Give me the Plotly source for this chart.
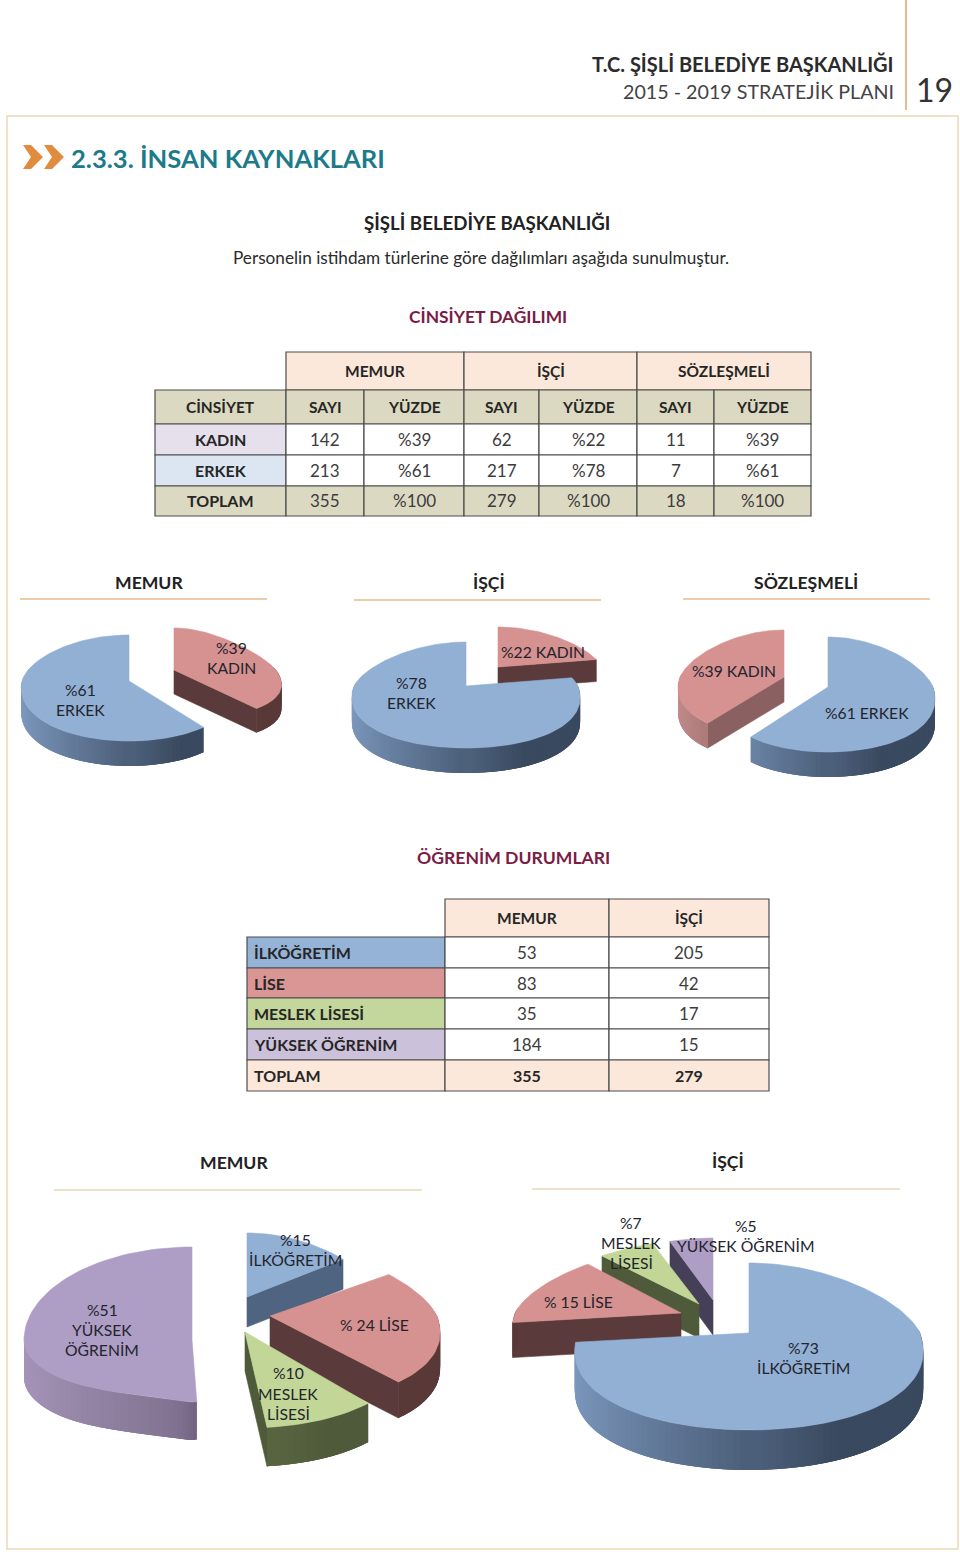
import math
import plotly.graph_objects as go

# ---------- data ----------
gender_cols = ["MEMUR", "İŞÇİ", "SÖZLEŞMELİ"]
gender_sub = ["CİNSİYET", "SAYI", "YÜZDE", "SAYI", "YÜZDE", "SAYI", "YÜZDE"]
gender_rows = ["KADIN", "ERKEK", "TOPLAM"]
gender_kadin = ["142", "%39", "62", "%22", "11", "%39"]
gender_erkek = ["213", "%61", "217", "%78", "7", "%61"]
gender_toplam = ["355", "%100", "279", "%100", "18", "%100"]

memur_gender_pct = [39, 61]        # KADIN, ERKEK (clockwise from 12 o'clock)
isci_gender_pct = [22, 78]         # KADIN, ERKEK
sozlesmeli_gender_pct = [61, 39]   # ERKEK, KADIN

edu_rows = ["İLKÖĞRETİM", "LİSE", "MESLEK LİSESİ", "YÜKSEK ÖĞRENİM"]
edu_memur = [53, 83, 35, 184]
edu_isci = [205, 42, 17, 15]
edu_total = [355, 279]

# ---------- styles ----------
BLUE = dict(top="#92afd4", light="#7e9ac0", dark="#39495f", face="#4f6480")
RED = dict(top="#d69191", light="#c78c8c", dark="#593838", face="#5a3a3a")
GREEN = dict(top="#c2d698", light="#7d8f5c", dark="#4f5a3a", face="#4f5a3a")
PURPLE = dict(top="#ae9dc5", light="#a594b8", dark="#62566f", face="#463f58")
FONT = "Lato"
INK = "#2b2b2b"
LABEL = 15.7

fig = go.Figure()


def pt(g, th, dz=0.0):
    cx, cy, rx, rt, rb, p = g[:6]
    e = g[6] if len(g) > 6 else 0
    s, c = math.sin(th), math.cos(th)
    f = 1 - p * c * abs(c) ** e
    if e and c > 0:
        f = 1.0
    x = cx + rx * s * f
    y = cy - (rt if c > 0 else rb) * c + dz
    return x, y


def poly(xs, ys, color, w=0.6):
    fig.add_trace(go.Scatter(x=xs, y=ys, mode="lines", fill="toself",
                             fillcolor=color, line=dict(color=color, width=w),
                             hoverinfo="skip", showlegend=False))


def lerp(c1, c2, k):
    a = [int(c1[i:i + 2], 16) for i in (1, 3, 5)]
    b = [int(c2[i:i + 2], 16) for i in (1, 3, 5)]
    return "rgb(%d,%d,%d)" % tuple(round(a[i] + (b[i] - a[i]) * k) for i in range(3))


def wedge(g, t1, t2, depth, st, face=None):
    cx, cy = g[0], g[1]
    face = face or st["face"]
    for th, vis in ((t1, math.sin(t1) < -0.01), (t2, math.sin(t2) > 0.01)):
        if vis:
            x0, y0 = pt(g, th)
            poly([cx, x0, x0, cx, cx], [cy, y0, y0 + depth, cy + depth, cy], face)
    # shaded strips, ordered and overlapping so no seams show; the span is swept from both ends to the middle
    n = max(2, int(abs(t2 - t1) / math.radians(2)))
    step = (t2 - t1) / n
    idx = list(range(n))
    for i in sorted(idx, key=lambda j: -abs(math.sin(t1 + (j + .5) * step))):
        a = t1 + step * i
        b = a + step
        if math.cos(a + step / 2) > 0.03:
            continue
        a2 = max(t1, a - step)
        b2 = min(t2, b + step)
        xa, ya = pt(g, a2)
        xm, ym = pt(g, (a2 + b2) / 2)
        xb, yb = pt(g, b2)
        k = min(1, max(0, (math.sin(a + step / 2) + 1) / 1.4))
        poly([xa, xm, xb, xb, xm, xa, xa], [ya, ym, yb, yb + depth, ym + depth, ya + depth, ya],
             lerp(st["light"], st["dark"], k), 0)
    m = max(4, int(abs(t2 - t1) / math.radians(2)))
    xs, ys = [cx], [cy]
    for i in range(m + 1):
        x, y = pt(g, t1 + (t2 - t1) * i / m)
        xs.append(x)
        ys.append(y)
    xs.append(cx)
    ys.append(cy)
    poly(xs, ys, st["top"])


def angles(values):
    tot = sum(values)
    out, c = [], 0
    for v in values:
        out.append((c / tot * 2 * math.pi, (c + v) / tot * 2 * math.pi))
        c += v
    return out


# --- gender pies
a = angles(memur_gender_pct)
wedge((129, 681, 107, 46, 60, .12), a[1][0], a[1][1], 25, BLUE)
wedge((174, 670, 102, 42, 50, .35), a[0][0], a[0][1], 24, RED)

a = angles(isci_gender_pct)
wedge((498, 667, 104, 40, 50, .2), a[0][0], a[0][1], 22, RED)
wedge((466, 686, 112, 44, 62, .2), a[1][0], a[1][1], 25, BLUE)

a = angles(sozlesmeli_gender_pct)
wedge((784, 677, 104, 47, 60, .2), a[1][0], a[1][1], 25, dict(RED, light="#c58d8d", dark="#6a4646"), face="#8a6060")
wedge((828, 687, 105, 50, 65, .2), a[0][0], a[0][1], 25, BLUE)

# --- education pies
a = angles(edu_memur)
wedge((192, 1340, 168, 93, 62, -.8, 8), a[3][0], a[3][1], 38, PURPLE)
wedge((247, 1297, 135, 64, 70, .2), a[0][0], a[0][1], 30, dict(BLUE, light="#4f6480", dark="#4f6480"))
wedge((270, 1316, 167, 70, 89, .2), a[1][0], a[1][1], 36, RED)
wedge((245, 1332, 160, 70, 96, .2), a[2][0], a[2][1], 39, GREEN)

a = angles(edu_isci)
wedge((713, 1300, 160, 62, 90, .2), a[3][0], a[3][1], 35, PURPLE)
wedge((699, 1304, 173, 64, 90, .2), a[2][0], a[2][1], 34, GREEN)
wedge((681, 1313, 166, 65, 100, .2), a[1][0], a[1][1], 35, dict(RED, light="#593838"))
wedge((749, 1333, 171, 70, 97, .2), a[0][0], a[0][1], 40, BLUE)

shapes, notes = [], []


def text(x, y, s, size=17, color=INK, bold=False, anchor="center"):
    notes.append(dict(x=x, y=y, xref="x", yref="y", text=("<b>%s</b>" % s) if bold else s,
                      showarrow=False, xanchor=anchor, yanchor="middle",
                      font=dict(family=FONT, size=size, color=color)))


def line(x0, y0, x1, y1, color, w=1.0):
    shapes.append(dict(type="line", x0=x0, y0=y0, x1=x1, y1=y1, xref="x", yref="y",
                       line=dict(color=color, width=w), layer="below"))


def cell(x0, y0, x1, y1, fill):
    shapes.append(dict(type="rect", x0=x0, y0=y0, x1=x1, y1=y1, xref="x", yref="y",
                       fillcolor=fill, line=dict(color="#4d4d4d", width=1.2), layer="below"))


# page furniture
line(906, 0, 906, 110, "#e0a26e", 1.5)
shapes.append(dict(type="rect", x0=7, y0=116, x1=958, y1=1549, xref="x", yref="y",
                   line=dict(color="#ecd8b8", width=1.5), layer="below"))
for dx in (0, 21):
    shapes.append(dict(type="path", xref="x", yref="y", fillcolor="#e18b3e", line=dict(width=0),
                       path=f"M{23+dx},145 L{31+dx},145 L{43+dx},157 L{31+dx},169 L{23+dx},169 L{31+dx},157 Z"))

text(896, 64, "T.C. ŞİŞLİ BELEDİYE BAŞKANLIĞI", 20, "#2b2b2b", True, "right")
text(896, 91, "2015 - 2019 STRATEJİK PLANI", 19.7, "#444444", False, "right")
text(934, 89, "19", 32, "#333333")
text(69, 158, "2.3.3. İNSAN KAYNAKLARI", 25.6, "#1d7a8a", True, "left")
text(487, 223, "ŞİŞLİ BELEDİYE BAŞKANLIĞI", 18.7, "#222222", True)
text(481, 257, "Personelin istihdam türlerine göre dağılımları aşağıda sunulmuştur.", 17.2)
text(488, 316, "CİNSİYET DAĞILIMI", 17.4, "#7b1c44", True)

# table 1
xs1 = [155, 286, 364, 464, 539, 637, 714, 811]
ys1 = [352, 390, 424, 455, 486, 516]
for i, name in enumerate(gender_cols):
    x0, x1 = xs1[1 + 2 * i], xs1[3 + 2 * i]
    cell(x0, ys1[0], x1, ys1[1], "#fce8da")
    text((x0 + x1) / 2, (ys1[0] + ys1[1]) / 2, name, 15.5, "#262626", True)
for c, name in enumerate(gender_sub):
    cell(xs1[c], ys1[1], xs1[c + 1], ys1[2], "#dcd9c2")
    text((xs1[c] + xs1[c + 1]) / 2, (ys1[1] + ys1[2]) / 2, name, 15.5, "#262626", True)
row_fill = ["#e5e0ec", "#dce6f2", "#dcd9c2"]
data_fill = ["#ffffff", "#ffffff", "#dcd9c2"]
for r, (name, vals) in enumerate(zip(gender_rows, (gender_kadin, gender_erkek, gender_toplam))):
    ym = (ys1[r + 2] + ys1[r + 3]) / 2 - 0.5
    cell(xs1[0], ys1[r + 2], xs1[1], ys1[r + 3], row_fill[r])
    text((xs1[0] + xs1[1]) / 2, ym, name, 16, "#262626", True)
    for c, v in enumerate(vals):
        cell(xs1[c + 1], ys1[r + 2], xs1[c + 2], ys1[r + 3], data_fill[r])
        text((xs1[c + 1] + xs1[c + 2]) / 2, ym, v, 17, "#3c3c3c")

# section headings over the gender pies
for x, y, name, rx0, rx1, ry in ((149, 582, "MEMUR", 20, 267, 599), (489, 582, "İŞÇİ", 354, 601, 600),
                                 (806, 582, "SÖZLEŞMELİ", 683, 930, 599)):
    text(x, y, name, 17.6, "#222222", True)
    line(rx0, ry, rx1, ry, "#e6bb8e", 1.3)

text(513, 857, "ÖĞRENİM DURUMLARI", 17.6, "#7b1c44", True)

# table 2
xs2 = [247, 445, 609, 769]
ys2 = [899, 937, 968, 998, 1029, 1060, 1091]
for c, name in enumerate(gender_cols[:2]):
    cell(xs2[c + 1], ys2[0], xs2[c + 2], ys2[1], "#fce8da")
    text((xs2[c + 1] + xs2[c + 2]) / 2, (ys2[0] + ys2[1]) / 2, name, 15.5, "#262626", True)
edu_fill = ["#95b3d7", "#d99694", "#c3d69b", "#ccc1da"]
for r, name in enumerate(edu_rows):
    ym = (ys2[r + 1] + ys2[r + 2]) / 2
    cell(xs2[0], ys2[r + 1], xs2[1], ys2[r + 2], edu_fill[r])
    text(252, ym, name, 16, "#262626", True, "left")
    for c, v in enumerate((edu_memur[r], edu_isci[r])):
        cell(xs2[c + 1], ys2[r + 1], xs2[c + 2], ys2[r + 2], "#ffffff")
        text((xs2[c + 1] + xs2[c + 2]) / 2, ym, str(v), 17, "#3c3c3c")
ym = (ys2[5] + ys2[6]) / 2
cell(xs2[0], ys2[5], xs2[1], ys2[6], "#fce8da")
text(252, ym, "TOPLAM", 16, "#262626", True, "left")
for c, v in enumerate(edu_total):
    cell(xs2[c + 1], ys2[5], xs2[c + 2], ys2[6], "#fce8da")
    text((xs2[c + 1] + xs2[c + 2]) / 2, ym, str(v), 16, "#262626", True)

for x, y, name, rx0, rx1, ry in ((234, 1162, "MEMUR", 54, 422, 1190), (728, 1161, "İŞÇİ", 532, 900, 1189)):
    text(x, y, name, 17.6, "#222222", True)
    line(rx0, ry, rx1, ry, "#dcc39a", 1.2)

# slice labels
pie_labels = [
    (80, 690, "%61"), (80, 710, "ERKEK"), (231, 648, "%39"), (231, 668, "KADIN"),
    (411, 683, "%78"), (411, 703, "ERKEK"), (543, 652, "%22 KADIN"),
    (734, 671, "%39 KADIN"), (867, 713, "%61 ERKEK"),
    (295, 1240, "%15"), (295, 1260, "İLKÖĞRETİM"), (374, 1325, "% 24 LİSE"),
    (288, 1373, "%10"), (288, 1394, "MESLEK"), (288, 1414, "LİSESİ"),
    (102, 1310, "%51"), (102, 1330, "YÜKSEK"), (102, 1350, "ÖĞRENİM"),
    (631, 1223, "%7"), (631, 1243, "MESLEK"), (631, 1263, "LİSESİ"),
    (746, 1226, "%5"), (746, 1246, "YÜKSEK ÖĞRENİM"), (578, 1302, "% 15 LİSE"),
    (803, 1348, "%73"), (803, 1368, "İLKÖĞRETİM"),
]
for x, y, s in pie_labels:
    text(x, y, s, LABEL, "#23242c")

fig.update_layout(
    width=960, height=1552, margin=dict(l=0, r=0, t=0, b=0),
    paper_bgcolor="white", plot_bgcolor="white", showlegend=False,
    xaxis=dict(range=[0, 960], visible=False, fixedrange=True),
    yaxis=dict(range=[1552, 0], visible=False, fixedrange=True),
    shapes=shapes, annotations=notes,
)
fig.write_html("out.html", config=dict(displayModeBar=False),
               post_script="document.body.style.margin='0';document.body.style.overflow='hidden';")
